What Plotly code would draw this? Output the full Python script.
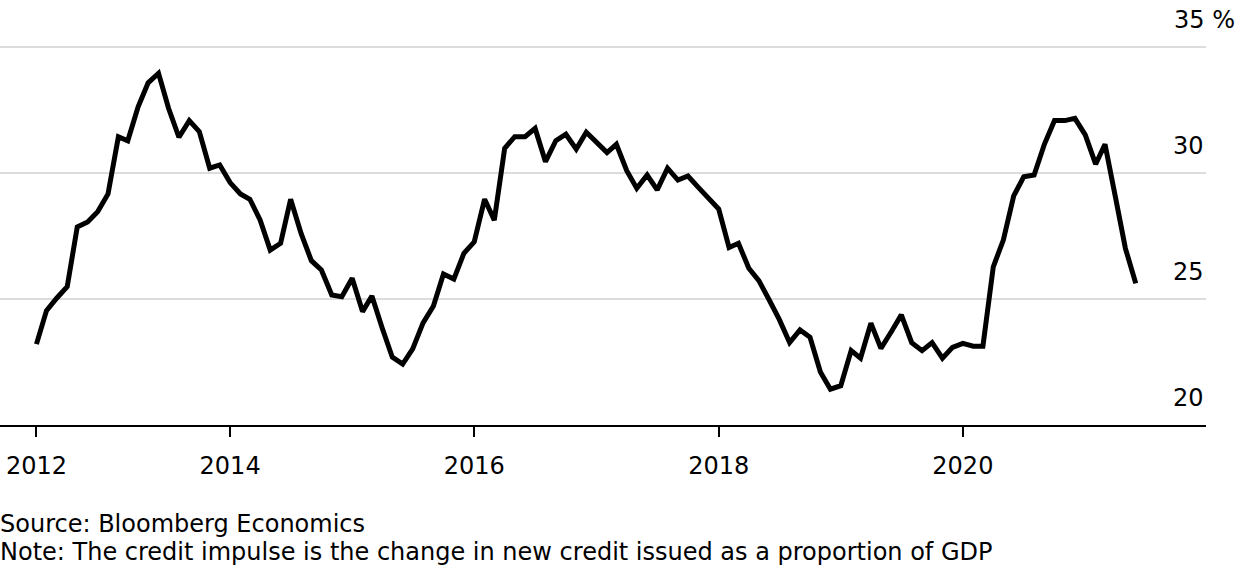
import pandas as pd
import plotly.graph_objects as go

# Monthly credit impulse (% of GDP), June 2012 – June 2021
start_month = "2012-06-01"
impulse = [
    23.21, 24.54, 25.04, 25.49, 27.86, 28.06, 28.46, 29.17, 31.44, 31.28,
    32.63, 33.58, 33.96, 32.57, 31.42, 32.08, 31.64, 30.19, 30.32, 29.62,
    29.17, 28.96, 28.13, 26.94, 27.21, 28.96, 27.61, 26.52, 26.15, 25.16,
    25.09, 25.82, 24.50, 25.12, 23.84, 22.69, 22.42, 23.02, 24.05, 24.72,
    25.99, 25.79, 26.81, 27.27, 28.96, 28.13, 30.98, 31.44, 31.44, 31.77,
    30.45, 31.28, 31.54, 30.95, 31.62, 31.20, 30.81, 31.14, 30.09, 29.39,
    29.92, 29.33, 30.19, 29.72, 29.88, 29.43, 29.04, 28.57, 27.04, 27.21,
    26.22, 25.73, 24.96, 24.19, 23.27, 23.77, 23.48, 22.10, 21.42, 21.56,
    22.95, 22.65, 24.04, 23.04, 23.70, 24.37, 23.27, 22.95, 23.27, 22.65,
    23.08, 23.24, 23.13, 23.13, 26.28, 27.34, 29.09, 29.85, 29.92, 31.15,
    32.08, 32.08, 32.17, 31.51, 30.35, 31.14, 29.06, 27.01, 25.62,
]
months = pd.date_range(start_month, periods=len(impulse), freq="MS")

x_tick_vals = ["2012-06-01", "2014-01-01", "2016-01-01", "2018-01-01", "2020-01-01"]
x_tick_text = ["2012", "2014", "2016", "2018", "2020"]
y_tick_vals = [20, 25, 30, 35]
y_tick_text = ["20", "25", "30", "35 %"]

source_text = "Source: Bloomberg Economics"
note_text = "Note: The credit impulse is the change in new credit issued as a proportion of GDP"

FONT = "DejaVu Sans"
FS = 24

fig = go.Figure()
fig.add_trace(go.Scatter(
    x=months, y=impulse, mode="lines",
    line=dict(color="#000000", width=5),
    hoverinfo="skip", showlegend=False,
))

annotations = []
for v, t in zip(y_tick_vals, y_tick_text):
    annotations.append(dict(
        x=1, xref="paper", y=v, yref="y", text=t, showarrow=False,
        xanchor="left" if "%" in t else "right", yanchor="bottom",
        xshift=-34 if "%" in t else 0, yshift=11,
        font=dict(family=FONT, size=FS, color="#000000"),
    ))
annotations.append(dict(
    x=0, xref="paper", y=-0.262, yref="paper", text=source_text, showarrow=False,
    xanchor="left", yanchor="middle", xshift=-2,
    font=dict(family=FONT, size=FS, color="#000000"),
))
annotations.append(dict(
    x=0, xref="paper", y=-0.336, yref="paper", text=note_text, showarrow=False,
    xanchor="left", yanchor="middle", xshift=-2,
    font=dict(family=FONT, size=FS, color="#000000"),
))

fig.update_layout(
    width=1240, height=572,
    margin=dict(l=0, r=34, t=46, b=147),
    paper_bgcolor="#ffffff", plot_bgcolor="#ffffff",
    font=dict(family=FONT, size=FS, color="#000000"),
    annotations=annotations,
    xaxis=dict(
        type="date",
        range=["2012-02-13", "2021-12-28"],
        tickmode="array", tickvals=x_tick_vals, ticktext=x_tick_text,
        ticks="outside", ticklen=10, tickwidth=1.5, tickcolor="#000000",
        showgrid=False, zeroline=False,
        showline=True, linecolor="#000000", linewidth=2,
        tickfont=dict(family=FONT, size=FS, color="#000000"),
        ticklabelstandoff=8,
    ),
    yaxis=dict(
        range=[20, 35.04],
        tickmode="array", tickvals=y_tick_vals,
        showticklabels=False, ticks="",
        showgrid=True, gridcolor="#dcdcdc", gridwidth=2,
        zeroline=False, showline=False,
    ),
)

fig.write_html(
    "out.html",
    config={"displayModeBar": False},
    post_script="document.body.style.margin='0';document.body.style.overflow='hidden';",
)
